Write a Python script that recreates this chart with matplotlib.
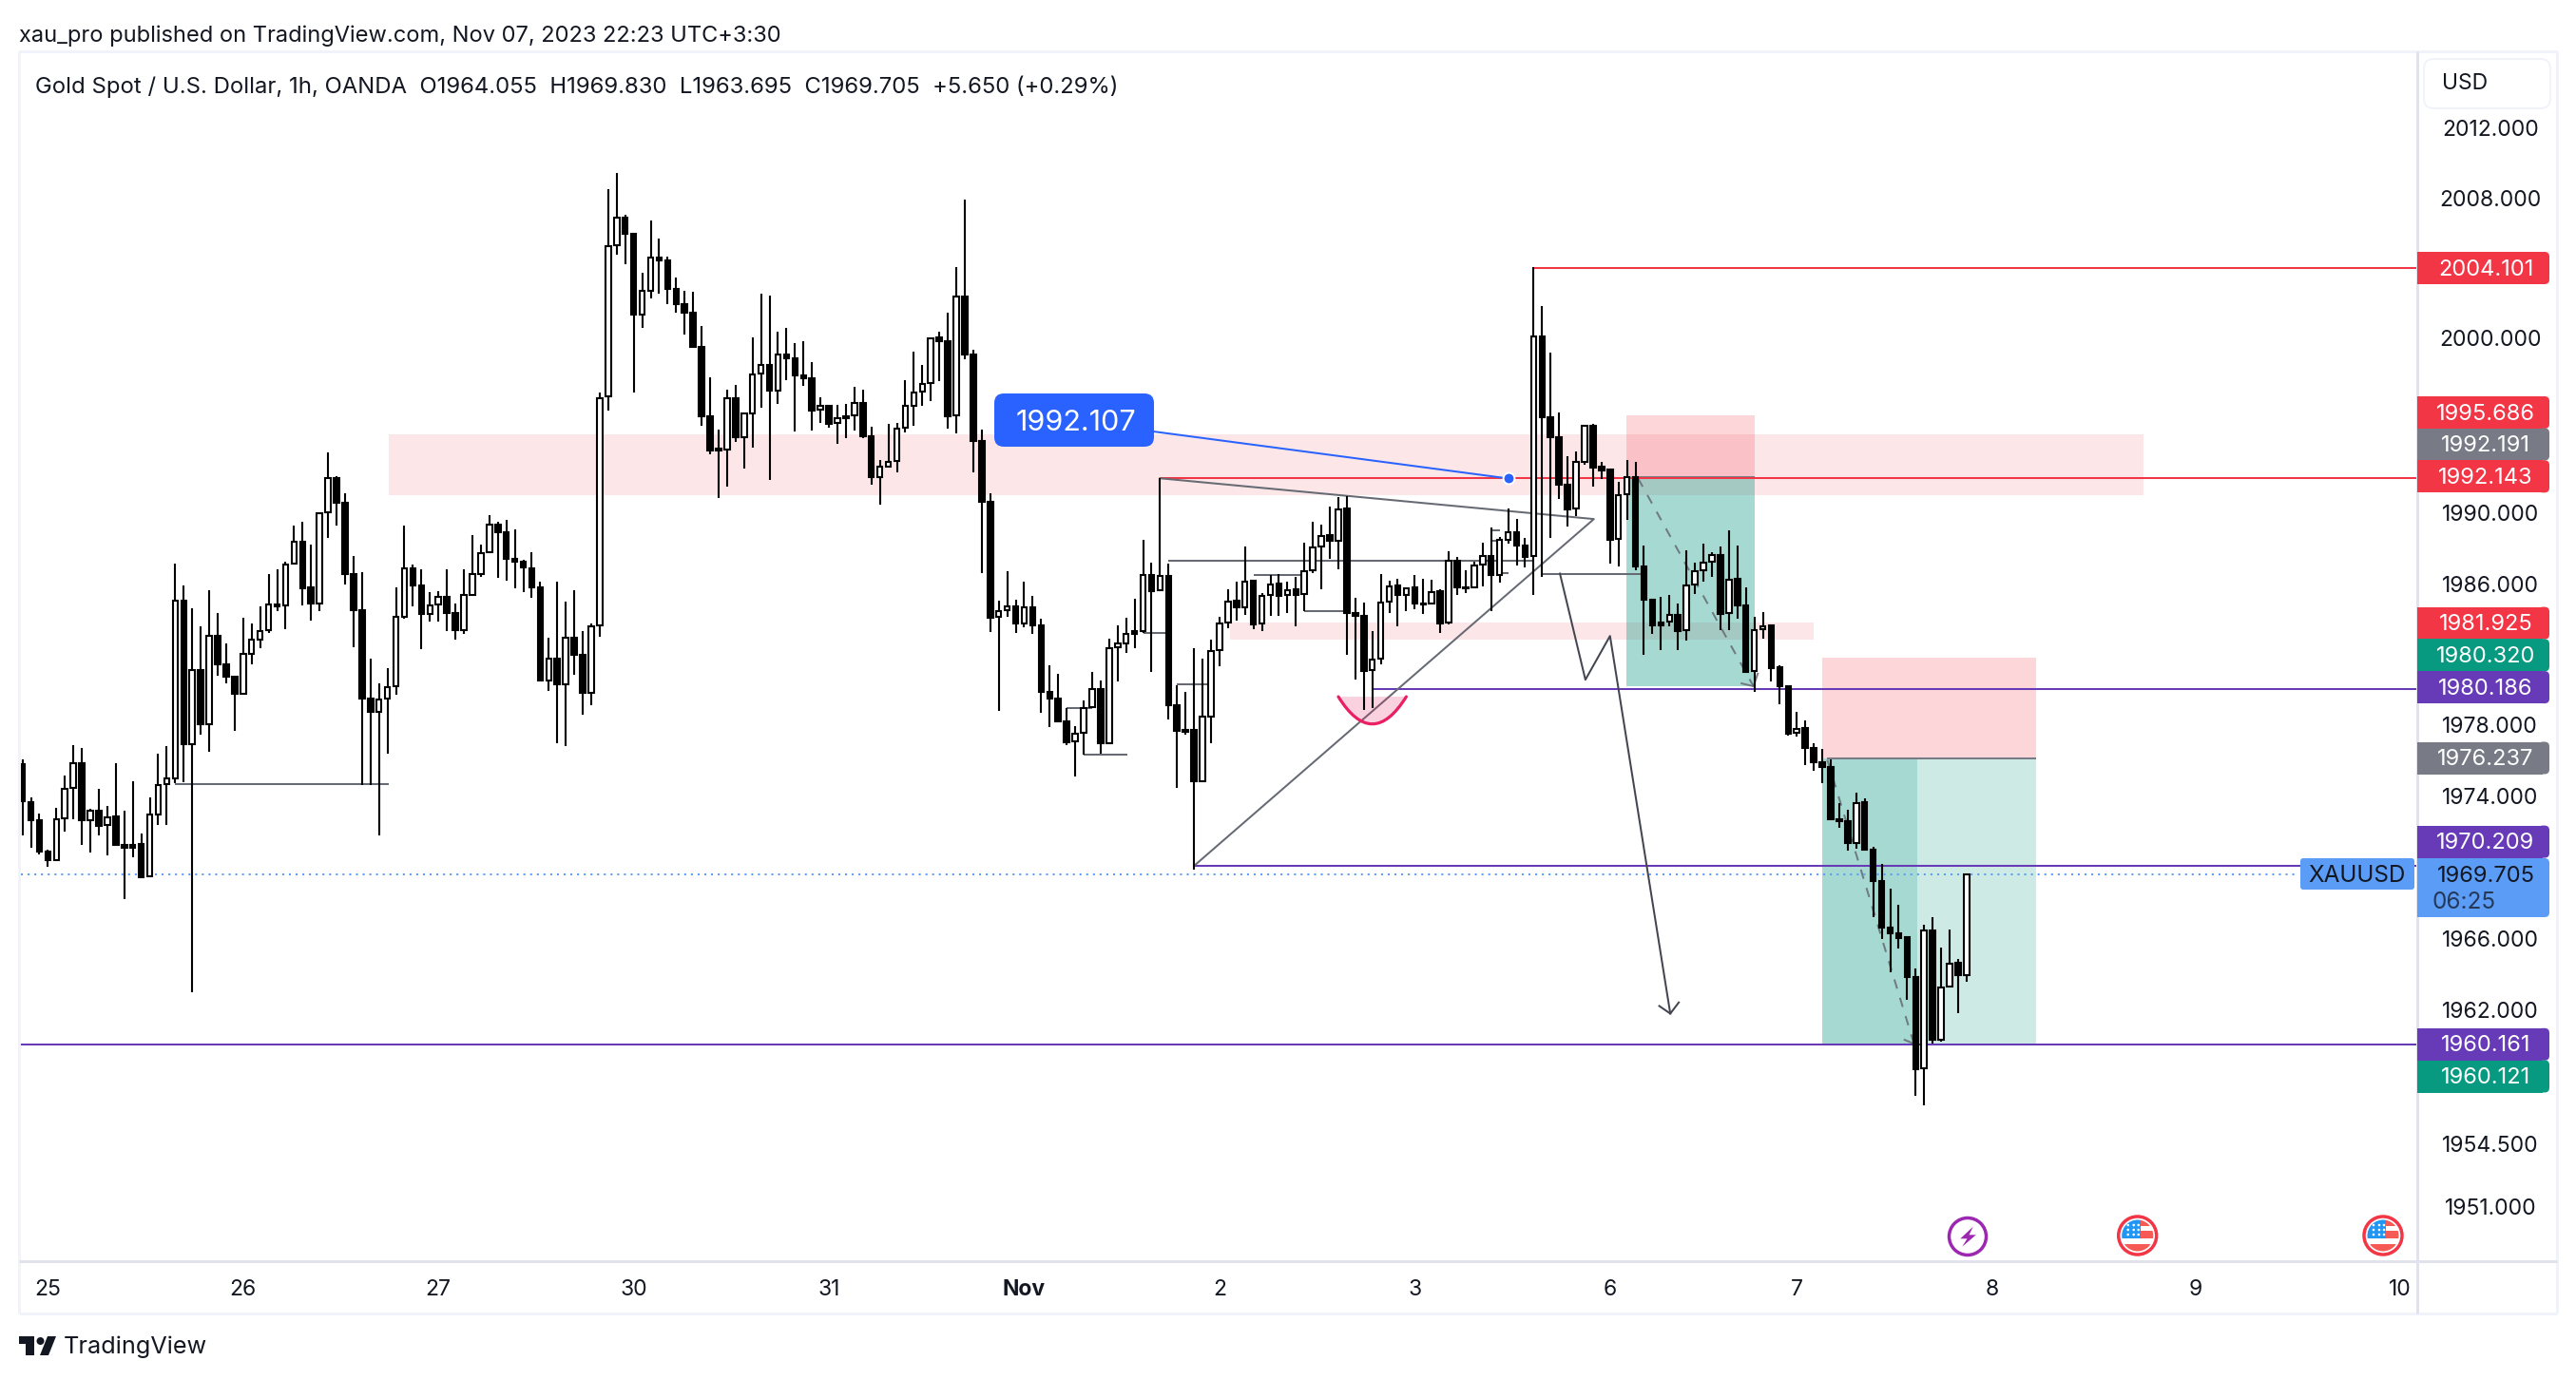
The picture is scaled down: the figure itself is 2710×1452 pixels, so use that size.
"""Gold 1h chart with hand drawn levels, TradingView look."""

import matplotlib

matplotlib.use("Agg")
import matplotlib.pyplot as plt
import numpy as np
from matplotlib.lines import Line2D
from matplotlib.patches import Circle, FancyBboxPatch, PathPatch, Polygon, Rectangle
from matplotlib.path import Path
from matplotlib.ticker import NullFormatter, NullLocator
from matplotlib.transforms import IdentityTransform

W, H = 2710, 1452

opens = [
    1976.08, 1973.91, 1972.87, 1971.11, 1970.66, 1973.00, 1974.69, 1976.12, 1972.87, 1973.42,
    1972.61, 1973.09, 1971.47, 1971.50, 1971.53, 1969.71, 1973.22, 1974.91, 1975.27, 1985.28,
    1977.19, 1981.38, 1978.32, 1983.30, 1981.71, 1980.99, 1980.05, 1982.29, 1983.10, 1983.62,
    1985.06, 1985.02, 1987.36, 1988.60, 1986.03, 1985.12, 1990.26, 1992.21, 1990.81, 1986.81,
    1984.76, 1979.73, 1979.01, 1979.73, 1980.44, 1984.37, 1987.11, 1986.16, 1984.54, 1985.06,
    1985.51, 1984.60, 1983.63, 1985.61, 1986.78, 1988.02, 1989.58, 1989.12, 1987.66, 1987.50,
    1987.11, 1986.03, 1980.80, 1982.03, 1980.57, 1983.20, 1982.23, 1980.08, 1983.89, 1996.83,
    2005.34, 2006.90, 2005.99, 2001.41, 2002.77, 2004.66, 2004.47, 2002.89, 2002.03, 2001.55,
    1999.61, 1995.71, 1993.86, 1993.84, 1996.71, 1994.53, 1995.85, 1998.08, 1998.60, 1997.14,
    1999.18, 1998.99, 1998.01, 1997.84, 1996.04, 1996.30, 1995.30, 1995.71, 1995.73, 1996.45,
    1994.56, 1992.28, 1992.85, 1993.19, 1995.03, 1996.30, 1997.07, 1997.55, 2000.13, 1999.95,
    1995.73, 2002.46, 1999.18, 1994.29, 1990.87, 1984.35, 1984.76, 1984.98, 1984.02, 1984.90,
    1983.90, 1980.14, 1979.73, 1978.49, 1977.33, 1977.82, 1979.25, 1980.30, 1977.24, 1982.63,
    1982.87, 1983.59, 1983.59, 1986.74, 1985.86, 1986.70, 1979.40, 1977.98, 1977.96, 1975.10,
    1978.73, 1982.47, 1984.03, 1985.26, 1984.88, 1986.39, 1984.00, 1985.60, 1986.23, 1985.60,
    1985.90, 1985.65, 1986.98, 1988.33, 1988.96, 1988.64, 1990.46, 1984.56, 1984.45, 1981.36,
    1981.99, 1985.22, 1986.12, 1985.62, 1986.01, 1985.13, 1985.10, 1985.80, 1984.03, 1987.55,
    1986.05, 1986.03, 1987.31, 1987.83, 1986.72, 1988.74, 1989.17, 1988.42, 1987.79, 2000.20,
    1995.66, 1994.52, 1991.85, 1990.47, 1993.14, 1995.15, 1992.84, 1992.66, 1988.76, 1991.27,
    1992.28, 1987.24, 1985.35, 1984.03, 1984.09, 1984.50, 1983.62, 1986.19, 1986.99, 1987.48,
    1987.87, 1984.58, 1986.50, 1984.99, 1981.30, 1983.68, 1983.87, 1981.51, 1980.47, 1977.82,
    1978.09, 1976.97, 1976.18, 1975.90, 1972.95, 1972.84, 1971.58, 1973.90, 1971.25, 1969.47,
    1966.84, 1966.51, 1966.27, 1964.05, 1958.88, 1966.68, 1960.49, 1963.48, 1964.82, 1964.13,
]
highs = [
    1976.34, 1974.17, 1973.26, 1971.21, 1973.58, 1975.43, 1977.12, 1976.99, 1973.55, 1974.65,
    1973.68, 1976.12, 1973.42, 1975.11, 1972.12, 1974.20, 1976.67, 1977.06, 1987.40, 1986.13,
    1984.83, 1983.82, 1985.87, 1984.57, 1982.85, 1981.06, 1984.31, 1984.02, 1984.96, 1986.81,
    1987.04, 1987.50, 1989.51, 1989.71, 1988.44, 1990.23, 1993.64, 1992.31, 1991.33, 1987.79,
    1986.88, 1982.00, 1980.60, 1981.45, 1986.03, 1989.51, 1987.30, 1987.04, 1985.74, 1985.80,
    1987.04, 1985.12, 1987.04, 1988.96, 1988.44, 1990.10, 1989.71, 1989.84, 1989.28, 1987.59,
    1988.02, 1986.36, 1983.17, 1986.33, 1985.22, 1985.87, 1983.59, 1983.98, 1997.05, 2008.53,
    2009.44, 2007.07, 2005.99, 2003.78, 2006.74, 2005.74, 2004.71, 2003.54, 2002.75, 2002.70,
    2000.81, 1997.89, 1994.94, 1997.22, 1997.48, 1995.92, 2000.16, 2002.60, 2002.48, 2000.47,
    2000.69, 1999.80, 1999.95, 1998.77, 1996.78, 1996.33, 1996.35, 1996.38, 1997.38, 1997.22,
    1995.11, 1993.24, 1995.25, 1995.32, 1997.72, 1999.32, 1998.58, 2000.16, 2000.45, 2001.55,
    2004.11, 2007.92, 1999.47, 1994.94, 1991.37, 1985.26, 1986.94, 1985.31, 1986.34, 1985.55,
    1984.26, 1981.62, 1981.14, 1979.23, 1978.20, 1979.64, 1981.24, 1980.76, 1983.11, 1983.90,
    1984.31, 1985.38, 1988.69, 1987.42, 1992.21, 1987.37, 1980.52, 1980.11, 1982.58, 1981.99,
    1983.06, 1984.35, 1985.92, 1986.33, 1988.32, 1986.39, 1985.69, 1986.72, 1986.81, 1986.33,
    1986.60, 1988.58, 1989.73, 1989.55, 1990.57, 1991.11, 1991.20, 1985.42, 1985.20, 1983.54,
    1986.78, 1986.40, 1986.51, 1986.01, 1986.72, 1986.51, 1986.46, 1985.92, 1988.07, 1987.74,
    1986.99, 1987.48, 1988.55, 1989.41, 1988.87, 1990.51, 1989.89, 1988.81, 2004.10, 2001.90,
    1999.27, 1995.90, 1993.43, 1993.70, 1995.18, 1995.25, 1993.11, 1992.66, 1992.00, 1993.21,
    1993.11, 1988.41, 1985.35, 1985.48, 1985.59, 1985.10, 1988.11, 1987.45, 1988.49, 1988.00,
    1988.33, 1989.23, 1988.39, 1986.06, 1984.36, 1984.63, 1983.87, 1981.65, 1980.47, 1979.00,
    1978.50, 1977.22, 1976.91, 1976.31, 1973.88, 1973.47, 1974.45, 1974.12, 1971.36, 1970.40,
    1969.03, 1968.13, 1966.35, 1964.51, 1966.98, 1967.42, 1965.69, 1966.70, 1965.03, 1969.91,
]
lows = [
    1972.05, 1971.31, 1970.98, 1970.26, 1970.59, 1972.25, 1972.93, 1971.47, 1971.08, 1972.02,
    1970.92, 1971.47, 1968.44, 1970.82, 1969.61, 1969.68, 1972.61, 1972.61, 1974.98, 1975.04,
    1963.15, 1977.74, 1976.77, 1981.06, 1980.64, 1977.91, 1980.05, 1981.71, 1982.59, 1983.46,
    1984.70, 1983.66, 1987.30, 1985.02, 1984.18, 1984.67, 1988.83, 1989.51, 1986.20, 1982.65,
    1974.88, 1974.88, 1972.05, 1976.67, 1979.99, 1984.24, 1984.96, 1982.52, 1984.08, 1984.08,
    1983.56, 1983.07, 1983.43, 1985.61, 1986.65, 1987.95, 1986.58, 1986.39, 1986.00, 1985.74,
    1985.45, 1980.80, 1980.21, 1977.25, 1977.09, 1981.12, 1978.85, 1979.37, 1983.27, 1996.01,
    2004.79, 2004.30, 1997.05, 2000.69, 2002.35, 2002.63, 2002.03, 2001.55, 2000.33, 1999.61,
    1995.16, 1993.53, 1991.06, 1991.73, 1994.25, 1992.74, 1993.93, 1996.16, 1992.09, 1996.40,
    1997.72, 1994.84, 1997.41, 1994.87, 1995.30, 1995.04, 1994.13, 1994.44, 1994.89, 1994.44,
    1991.83, 1990.72, 1992.81, 1992.52, 1994.77, 1995.13, 1996.28, 1996.54, 1997.69, 1994.99,
    1994.75, 1998.89, 1992.54, 1986.84, 1983.49, 1979.04, 1984.35, 1983.44, 1983.78, 1983.40,
    1978.97, 1978.13, 1978.49, 1977.10, 1975.37, 1976.59, 1979.20, 1976.64, 1977.24, 1980.71,
    1982.32, 1982.58, 1983.47, 1981.24, 1985.86, 1978.56, 1974.73, 1977.72, 1970.08, 1975.01,
    1977.25, 1981.59, 1983.74, 1984.18, 1984.49, 1983.68, 1983.59, 1984.44, 1984.44, 1984.60,
    1983.83, 1984.70, 1986.85, 1985.92, 1987.65, 1987.05, 1982.20, 1980.82, 1979.09, 1979.21,
    1981.70, 1984.58, 1983.83, 1984.70, 1984.81, 1984.54, 1985.08, 1983.47, 1983.95, 1985.62,
    1985.71, 1986.01, 1986.10, 1984.67, 1986.31, 1988.49, 1987.26, 1987.17, 1985.61, 1986.63,
    1988.83, 1991.01, 1989.48, 1990.07, 1992.96, 1991.73, 1992.14, 1987.38, 1987.22, 1989.85,
    1986.99, 1982.20, 1983.40, 1982.50, 1983.81, 1982.50, 1983.05, 1985.67, 1986.36, 1986.63,
    1983.62, 1983.62, 1984.28, 1981.27, 1980.15, 1983.16, 1980.72, 1979.46, 1977.65, 1977.60,
    1976.01, 1975.68, 1975.00, 1972.95, 1972.48, 1971.19, 1971.30, 1971.25, 1967.42, 1966.16,
    1964.32, 1965.64, 1962.76, 1957.34, 1956.79, 1960.30, 1960.41, 1963.42, 1961.97, 1963.77,
]
closes = [
    1973.97, 1972.87, 1971.14, 1970.66, 1972.93, 1974.65, 1976.12, 1972.87, 1973.42, 1972.54,
    1973.03, 1971.47, 1971.34, 1971.34, 1969.68, 1973.19, 1974.88, 1975.24, 1985.28, 1977.19,
    1981.38, 1978.29, 1983.30, 1981.71, 1980.99, 1980.05, 1982.29, 1983.07, 1983.59, 1985.06,
    1984.96, 1987.33, 1988.60, 1986.00, 1985.12, 1990.23, 1992.21, 1990.81, 1986.81, 1984.76,
    1979.73, 1979.01, 1979.69, 1980.41, 1984.37, 1987.11, 1986.16, 1984.54, 1985.02, 1985.51,
    1984.60, 1983.63, 1985.61, 1986.78, 1987.95, 1989.58, 1989.12, 1987.66, 1987.50, 1987.14,
    1986.03, 1980.80, 1982.00, 1980.57, 1983.20, 1982.23, 1980.08, 1983.82, 1996.73, 2005.31,
    2006.90, 2005.99, 2001.41, 2002.77, 2004.66, 2004.47, 2002.89, 2002.03, 2001.55, 1999.61,
    1995.71, 1993.77, 1993.77, 1996.71, 1994.53, 1995.85, 1998.05, 1998.60, 1997.14, 1999.18,
    1998.99, 1998.01, 1997.84, 1996.02, 1996.28, 1995.28, 1995.59, 1995.61, 1996.45, 1994.56,
    1992.28, 1992.83, 1993.14, 1995.01, 1996.28, 1997.02, 1997.53, 2000.09, 1999.95, 1995.71,
    2002.46, 1999.18, 1994.29, 1990.87, 1984.33, 1984.71, 1984.95, 1984.02, 1984.90, 1983.90,
    1980.14, 1979.73, 1978.49, 1977.31, 1977.77, 1979.20, 1980.28, 1977.24, 1982.61, 1982.85,
    1983.40, 1983.42, 1986.72, 1985.84, 1986.68, 1979.40, 1977.94, 1977.89, 1975.10, 1978.71,
    1982.45, 1984.01, 1985.24, 1984.88, 1986.37, 1983.95, 1985.56, 1986.21, 1985.56, 1985.88,
    1985.63, 1986.96, 1988.30, 1988.94, 1988.64, 1990.44, 1984.56, 1984.44, 1981.32, 1981.97,
    1985.19, 1986.10, 1985.58, 1985.96, 1985.10, 1985.06, 1985.78, 1984.01, 1987.53, 1986.01,
    1985.97, 1987.28, 1987.80, 1986.71, 1988.73, 1989.15, 1988.42, 1987.76, 2000.20, 1995.66,
    1994.52, 1991.85, 1990.44, 1993.12, 1995.13, 1992.80, 1992.64, 1988.74, 1991.25, 1992.26,
    1987.22, 1985.35, 1983.90, 1983.90, 1984.47, 1983.59, 1986.14, 1986.93, 1987.43, 1987.84,
    1984.55, 1986.47, 1984.99, 1981.27, 1983.62, 1983.84, 1981.49, 1980.47, 1977.76, 1978.04,
    1976.97, 1976.18, 1975.90, 1972.95, 1972.81, 1971.58, 1973.85, 1971.25, 1969.47, 1966.84,
    1966.51, 1966.24, 1964.05, 1958.85, 1966.65, 1960.49, 1963.45, 1964.79, 1964.13, 1969.82,
]

price_ticks = [2012, 2008, 2000, 1990, 1986, 1978, 1974, 1966, 1962, 1954.5, 1951]
price_tick_labels = ["2012.000", "2008.000", "2000.000", "1990.000", "1986.000", "1978.000",
                     "1974.000", "1966.000", "1962.000", "1954.500", "1951.000"]
day_ticks = [3, 26, 49, 72, 95, 118, 141, 164, 187, 209, 232, 256, 280]
day_labels = ["25", "26", "27", "30", "31", "Nov", "2", "3", "6", "7", "8", "9", "10"]

# (start candle, price) of the level lines that run to the price scale
red_levels = [(178, 2004.101), (134, 1992.143)]
purple_levels = [(159, 1980.186), (138, 1970.209), (-1, 1960.161)]
last_price = 1969.705

# (first candle, last candle, low, high)
supply_zone = (43.1, 249.8, 1991.25, 1994.68)
small_zone = (142.2, 211.0, 1983.08, 1984.03)
short1_x = (188.9, 204.1)
short1_prices = (1980.45, 1992.30, 1995.75)
short2_x = (212.0, 237.2)
short2_prices = (1960.16, 1976.37, 1982.06)
short2_closed_at = 223.2

# short gray rays: first candle, last candle, price
ray_start = [18, 125, 123, 132, 136, 135, 145, 151, 173, 173, 174, 179]
ray_end = [43.1, 130.1, 126, 135, 140, 178, 151, 156, 174, 174, 175, 191]
ray_price = [1974.95, 1976.59, 1979.20, 1983.45, 1980.57, 1987.53, 1986.72, 1984.70,
             1989.26, 1988.64, 1986.85, 1986.80]

triangle_x = [134, 185.1, 138]
triangle_y = [1992.19, 1989.89, 1970.31]
zigzag_x = [181.1, 184.1, 187.0, 194.1]
zigzag_y = [1986.81, 1980.82, 1983.29, 1961.97]
zigzag_head_x = [192.8, 194.1, 195.1]
zigzag_head_y = [1962.40, 1961.97, 1962.60]
arc_x = [155, 159, 163]
arc_y = [1979.86, 1976.78, 1979.86]

# price scale flags, label text with its colour name, top to bottom
flag_texts = ["2004.101", "1995.686", "1992.191", "1992.143", "1981.925", "1980.320",
              "1980.186", "1976.237", "1970.209", "1960.161", "1960.121"]
flag_kinds = ["red", "red", "gray", "red", "red", "green", "purple", "gray", "purple",
              "purple", "green"]

COLORS = {"red": "#f23645", "gray": "#787b86", "green": "#089981", "purple": "#673ab7"}
# pixel centres of the stacked flags on the scale
FLAG_Y = [282, 434, 467.5, 501.3, 655.6, 689.4, 723.1, 797.5, 885.6, 1098.8, 1132.5]
DARK = "#131722"
GRAY_LINE = "#666a73"


def read_to_price(p):
    # the pane is log scaled, the values above came from a straight ruler through 1954.5 and 2000
    return 2000 * np.exp((np.asarray(p, dtype=float) - 2000) * 18.64 / 36856)


def px_y(y):
    return H - y


def px_patch(fig, patch, zorder=5):
    patch.set_transform(IdentityTransform())
    patch.set_zorder(zorder)
    fig.add_artist(patch)
    return patch


def px_box(fig, x0, y0, x1, y1, color, radius=0, zorder=5, edge="none"):
    box = FancyBboxPatch(
        (x0 + radius, px_y(y1) + radius), x1 - x0 - 2 * radius, y1 - y0 - 2 * radius,
        boxstyle=f"round,pad={radius},rounding_size={radius}",
        facecolor=color, edgecolor=edge, linewidth=1.4,
    )
    return px_patch(fig, box, zorder)


def px_line(fig, xs, ys, color, width=3.0):
    line = Line2D(xs, [px_y(y) for y in ys], color=color, linewidth=width * 0.72,
                  solid_capstyle="butt")
    line.set_transform(IdentityTransform())
    fig.add_artist(line)


def px_text(fig, x, y, s, **kw):
    kw.setdefault("va", "center")
    kw.setdefault("color", DARK)
    kw.setdefault("fontsize", 17)
    fig.text(x / W, 1 - (y + 1.5) / H, s, zorder=7, **kw)


def draw_candles(ax):
    x = np.arange(len(opens))
    o, h, l, c = [read_to_price(a) for a in (opens, highs, lows, closes)]
    ax.vlines(x, l, h, color="black", linewidth=1.5, zorder=3)
    faces = ["white" if up else "black" for up in c >= o]
    bottom = np.minimum(o, c)
    ax.bar(x, np.abs(c - o), bottom=bottom, width=0.62, color=faces, edgecolor="black",
           linewidth=1.5, zorder=4)


def draw_zone(ax, x_range, low, high, color, alpha):
    ax.fill_between(x_range, read_to_price(low), read_to_price(high), color=color, alpha=alpha,
                    linewidth=0, zorder=1)


def draw_trade_arrow(ax, x0, y0, x1, y1, head_x, head_y):
    ax.plot([x0, x1], read_to_price([y0, y1]), color=GRAY_LINE, linewidth=1.45,
            linestyle=(0, (5, 5)), zorder=2, alpha=0.85)
    ax.plot(head_x, read_to_price(head_y), color=GRAY_LINE, linewidth=1.45, zorder=2, alpha=0.85)


def draw_drawings(ax, x_right):
    red, green = COLORS["red"], COLORS["green"]
    draw_zone(ax, supply_zone[:2], *supply_zone[2:], red, 0.12)
    draw_zone(ax, small_zone[:2], *small_zone[2:], red, 0.12)

    # the two short position tools
    for xr, (target, entry, stop) in ((short1_x, short1_prices), (short2_x, short2_prices)):
        draw_zone(ax, xr, entry, stop, red, 0.2)
        draw_zone(ax, xr, target, entry, green, 0.2)
    draw_zone(ax, short1_x, short1_prices[0], short1_prices[1], green, 0.2)
    draw_zone(ax, (short2_x[0], short2_closed_at), short2_prices[0], short2_prices[1], green, 0.2)
    ax.hlines(1992.191, 190, short1_x[1], color=COLORS["gray"], linewidth=1.45, zorder=2)
    ax.hlines(1976.237, 212.5, short2_x[1], color=COLORS["gray"], linewidth=1.45, zorder=2)
    draw_trade_arrow(ax, 190.3, 1992.19, 203.9, 1980.45, [202.5, 203.9, 204.4],
                     [1980.61, 1980.45, 1981.16])
    draw_trade_arrow(ax, 212.6, 1976.3, 222.8, 1960.27, [221.7, 222.8, 223.2],
                     [1960.49, 1960.27, 1960.90])

    for start, level in red_levels:
        ax.hlines(level, start, x_right, color=red, linewidth=1.45, zorder=2)
    for start, level in purple_levels:
        ax.hlines(level, start, x_right, color=COLORS["purple"], linewidth=1.45, zorder=2)
    ax.hlines(last_price, -1, 267.7, color="#5b9cf6", linewidth=1.45,
              linestyle=(0, (1, 2.5)), zorder=2)

    ax.hlines(read_to_price(ray_price), ray_start, ray_end, color=GRAY_LINE, linewidth=1.45, zorder=2)
    ax.plot(triangle_x, read_to_price(triangle_y), color=GRAY_LINE, linewidth=1.45, zorder=2)
    ax.plot(zigzag_x, read_to_price(zigzag_y), color="#434651", linewidth=1.45, zorder=2)
    ax.plot(zigzag_head_x, read_to_price(zigzag_head_y), color="#434651", linewidth=1.45, zorder=2)

    # brush stroke under the low of Nov 2
    arc_pts = list(zip(arc_x, read_to_price(arc_y)))
    ax.add_patch(PathPatch(Path(arc_pts, [Path.MOVETO, Path.CURVE3, Path.CURVE3]),
                           facecolor="#e91e63", alpha=0.2, edgecolor="none", zorder=2))
    ax.add_patch(PathPatch(Path(arc_pts, [Path.MOVETO, Path.CURVE3, Path.CURVE3]),
                           facecolor="none", edgecolor="#e91e63", linewidth=2.3,
                           capstyle="round", zorder=5))

    # callout line and its anchor
    ax.plot([124.1, 175], [read_to_price(1995.41), 1992.107], color="#2962ff", linewidth=1.45,
            zorder=5)
    ax.plot([175], [1992.107], marker="o", markersize=8.5, color="#2962ff",
            markeredgecolor="white", markeredgewidth=1.4, zorder=6)


def draw_price_flags(fig):
    for text, kind, y in zip(flag_texts, flag_kinds, FLAG_Y):
        px_box(fig, 2670, y - 17, 2682, y + 17, COLORS[kind], radius=5)
        px_patch(fig, Rectangle((2543, px_y(y + 17)), 132, 34, facecolor=COLORS[kind], edgecolor="none"))
        px_text(fig, 2615, y, text, color="white", ha="center")

    # live price with countdown and the symbol tag
    px_box(fig, 2670, 903, 2682, 965, "#5b9cf6", radius=5)
    px_patch(fig, Rectangle((2543, px_y(965)), 132, 62, facecolor="#5b9cf6", edgecolor="none"))
    px_text(fig, 2615, 920, "1969.705", ha="center")
    px_text(fig, 2559, 948, "06:25", ha="left", alpha=0.75, fontsize=17.5)
    px_box(fig, 2420, 903, 2540, 936, "#5b9cf6", radius=3)
    px_text(fig, 2480, 920, "XAUUSD", ha="center", fontsize=17.5)


def draw_flag_icon(fig, cx, cy):
    y = px_y(cy)
    px_patch(fig, Circle((cx, y), 20, facecolor="white", edgecolor="#f23645", linewidth=2.5))
    clip = Circle((cx, y), 16.5, transform=IdentityTransform())
    parts = [
        ((cx - 17, y - 3), 20, 20, "#2196f3"),
        ((cx + 3, y + 10), 14, 7, "#f55a54"),
        ((cx + 3, y - 3), 14, 8, "#f55a54"),
        ((cx - 17, y - 17), 34, 8, "#f55a54"),
    ]
    for xy, w, h, color in parts:
        rect = px_patch(fig, Rectangle(xy, w, h, facecolor=color, edgecolor="none"), 6)
        rect.set_clip_path(clip)
    for dx in (-10, -4, 1):
        for dy in (1, 6, 11):
            px_patch(fig, Circle((cx + dx, y + dy), 1.3, facecolor="white", edgecolor="none"), 7)


def draw_bolt_icon(fig, cx, cy):
    y = px_y(cy)
    px_patch(fig, Circle((cx, y), 19.5, facecolor="white", edgecolor="#9c27b0", linewidth=2.5))
    bolt = [(5.7, 10.3), (-7.7, -2.3), (-0.5, -2.3), (-5.7, -10.7), (8.8, 1.7), (1.5, 1.7)]
    px_patch(fig, Polygon([(cx + a, y + b) for a, b in bolt], facecolor="#9c27b0", edgecolor="none"), 6)


def draw_frame(fig):
    for xs, ys in (([20, 2690], [54, 54]), ([20, 20], [54, 1382]), ([2690, 2690], [54, 1382]),
                   ([20, 2690], [1382, 1382])):
        px_line(fig, xs, ys, "#f0f3fa")
    px_line(fig, [2543, 2543], [54, 1382], "#e0e3eb")
    px_line(fig, [20, 2690], [1327, 1327], "#e0e3eb")

    px_box(fig, 2550, 62, 2683, 114, "white", radius=10, edge="#f0f3fa")
    px_text(fig, 2569, 87, "USD", ha="left", fontsize=16.5)

    px_text(fig, 20, 36, "xau_pro published on TradingView.com, Nov 07, 2023 22:23 UTC+3:30", ha="left")
    px_text(fig, 37, 90,
            "Gold Spot / U.S. Dollar, 1h, OANDA  O1964.055  H1969.830  L1963.695  C1969.705  +5.650 (+0.29%)",
            ha="left", fontsize=17.2)

    # logo
    px_patch(fig, Polygon([(20, px_y(1406)), (36, px_y(1406)), (36, px_y(1426)), (27, px_y(1426)),
                           (27, px_y(1414)), (20, px_y(1414))], facecolor=DARK, edgecolor="none"))
    px_patch(fig, Circle((42.5, px_y(1411)), 4, facecolor=DARK, edgecolor="none"))
    px_patch(fig, Polygon([(50, px_y(1406)), (59, px_y(1406)), (51, px_y(1426)), (42, px_y(1426))],
                          facecolor=DARK, edgecolor="none"))
    px_text(fig, 67, 1416, "TradingView", ha="left", fontsize=18.2)


def main():
    plt.rcParams["font.family"] = "Inter"
    fig = plt.figure(figsize=(W / 100, H / 100), dpi=100, facecolor="white")
    ax = fig.add_axes([20 / W, 1 - 1327 / H, (2543 - 20) / W, (1327 - 54) / H])
    ax.set_yscale("log")
    x_right = (2543 - 24) / 8.93

    draw_drawings(ax, x_right)
    draw_candles(ax)

    ax.set_xlim(-0.4, x_right)
    ax.set_ylim(1948.08, 2016.55)
    for spine in ax.spines.values():
        spine.set_visible(False)

    ax.set_yticks(price_ticks, labels=price_tick_labels)
    ax.yaxis.set_minor_locator(NullLocator())
    ax.yaxis.set_minor_formatter(NullFormatter())
    ax.tick_params(axis="y", left=False, right=False, labelleft=False, labelright=True,
                   pad=51.8, labelsize=16.5, labelcolor=DARK)
    for label in ax.get_yticklabels():
        label.set_ha("center")
        label.set_va("center")

    ax.set_xticks(day_ticks, labels=day_labels)
    ax.tick_params(axis="x", length=0, pad=14, labelsize=16.5, labelcolor=DARK)
    ax.get_xticklabels()[day_labels.index("Nov")].set_fontweight("bold")

    draw_frame(fig)
    draw_price_flags(fig)

    # callout box
    px_box(fig, 1046, 414, 1214, 470, "#2962ff", radius=10)
    px_text(fig, 1132, 443, "1992.107", color="white", ha="center", fontsize=22)

    draw_bolt_icon(fig, 2070, 1301)
    draw_flag_icon(fig, 2248.7, 1300)
    draw_flag_icon(fig, 2507, 1300)

    fig.savefig("out.png", dpi=100)


if __name__ == "__main__":
    main()
